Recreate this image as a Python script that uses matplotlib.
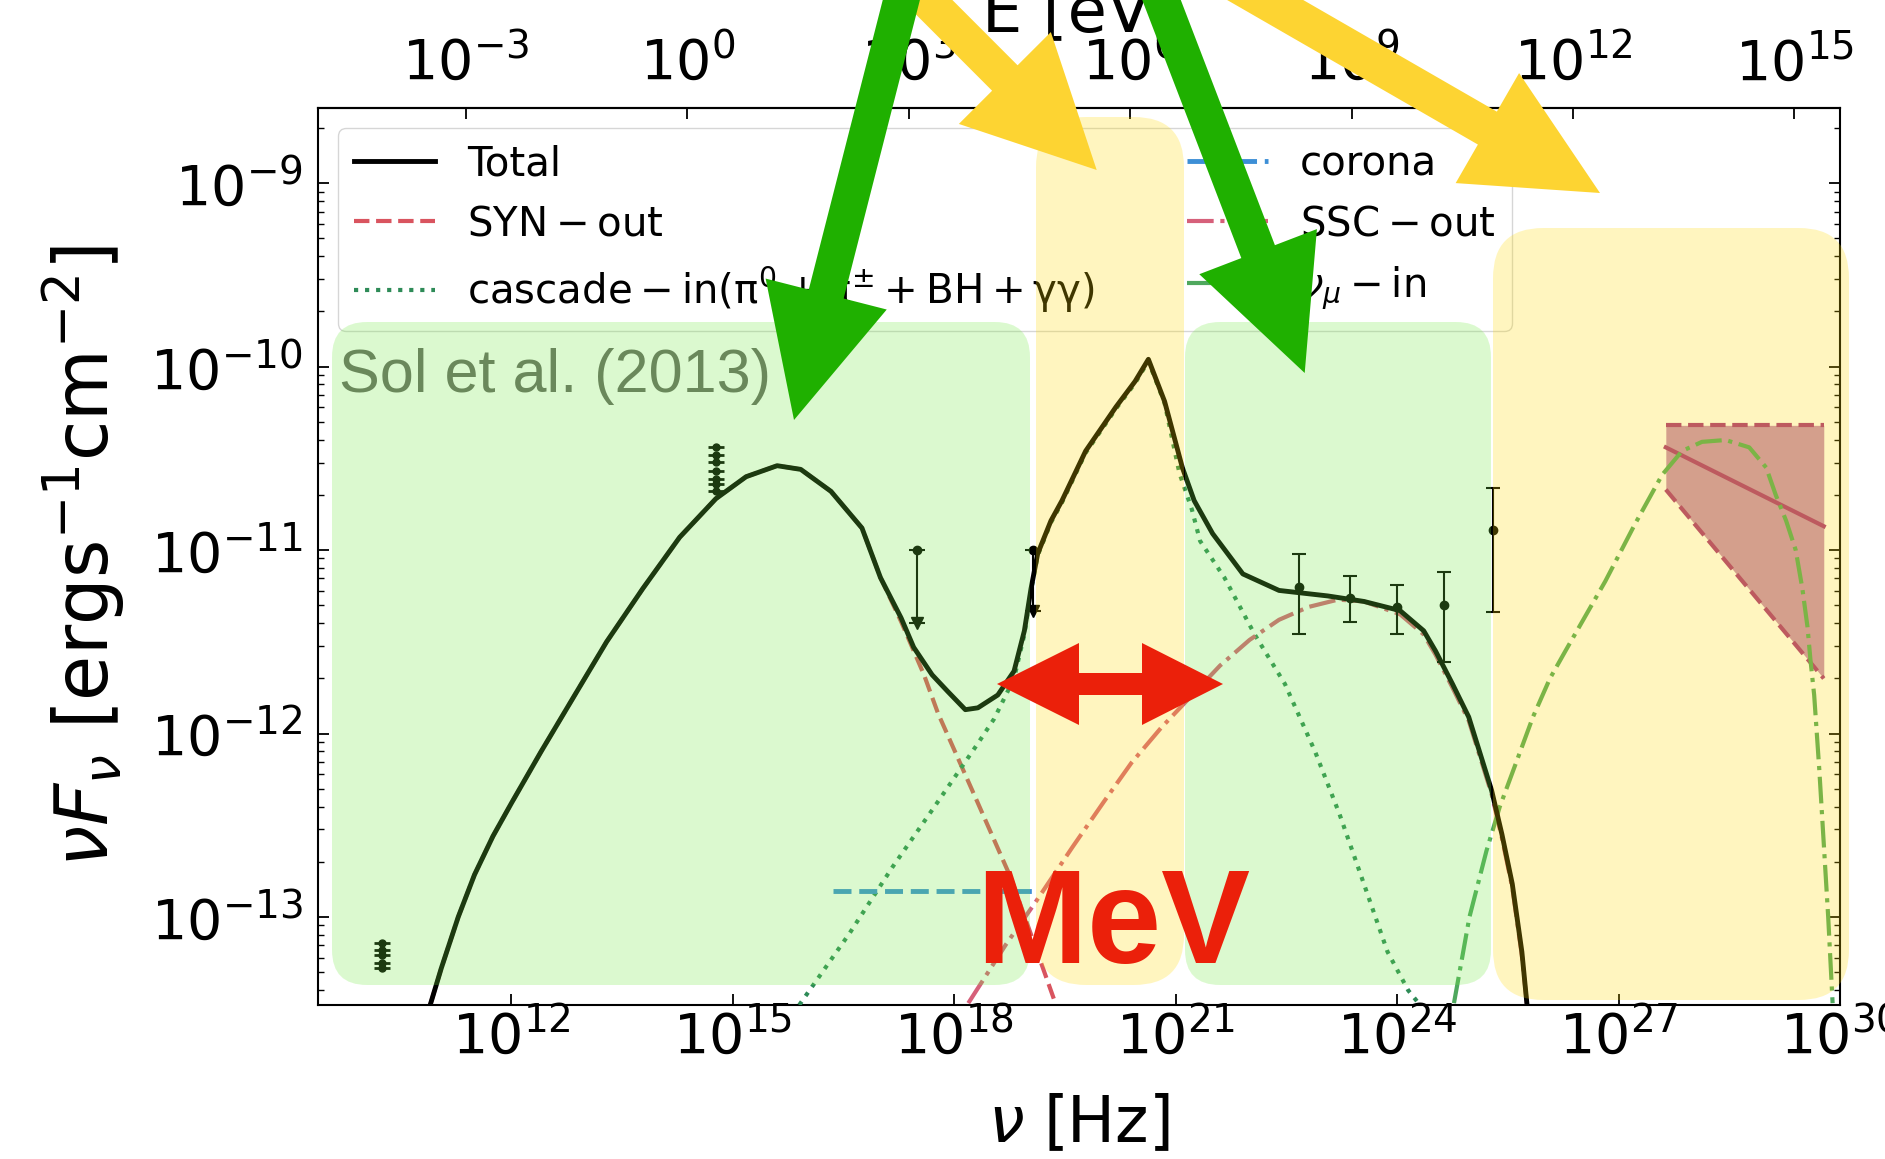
import numpy as np
import matplotlib
matplotlib.use("Agg")
import matplotlib.pyplot as plt
from matplotlib.patches import FancyBboxPatch, Polygon
from matplotlib.ticker import NullLocator
from matplotlib.transforms import IdentityTransform

W, H = 1885, 1159
PLANCK_EV = 4.135667e-15  # eV s

# ---- curves: log10(nu / Hz) and log10(nu F_nu) ----
total_lognu = [10.90, 11.05, 11.28, 11.50, 11.75, 12.00, 12.40, 12.80, 13.29, 13.78,
               14.28, 14.77, 15.18, 15.60, 15.92, 16.33, 16.75, 17.00, 17.28, 17.45,
               17.70, 17.91, 18.15, 18.32, 18.59, 18.81, 18.95, 19.04, 19.13, 19.31,
               19.46, 19.78, 20.19, 20.45, 20.63, 20.85, 21.09, 21.25, 21.50, 21.91,
               22.40, 23.06, 23.55, 24.04, 24.36, 24.52, 24.75, 24.97, 25.28, 25.42,
               25.56, 25.69, 25.76]
total_logf = [-13.48, -13.28, -13.00, -12.77, -12.56, -12.38, -12.10, -11.83, -11.50, -11.21,
              -10.93, -10.72, -10.60, -10.54, -10.56, -10.68, -10.88, -11.15, -11.37, -11.53,
              -11.68, -11.77, -11.87, -11.86, -11.79, -11.66, -11.44, -11.21, -11.02, -10.84,
              -10.73, -10.46, -10.22, -10.08, -9.96, -10.19, -10.55, -10.73, -10.91, -11.13,
              -11.22, -11.25, -11.28, -11.33, -11.44, -11.55, -11.73, -11.91, -12.31, -12.55,
              -12.82, -13.19, -13.48]

syn_lognu = [10.90, 11.05, 11.28, 11.50, 11.75, 12.00, 12.40, 12.80, 13.29, 13.78,
             14.28, 14.77, 15.18, 15.60, 15.92, 16.33, 16.75, 17.00, 17.28, 17.59,
             17.78, 18.31, 18.77, 19.37]
syn_logf = [-13.48, -13.28, -13.00, -12.77, -12.56, -12.38, -12.10, -11.83, -11.50, -11.21,
            -10.93, -10.72, -10.60, -10.54, -10.56, -10.68, -10.88, -11.15, -11.39, -11.68,
            -11.89, -12.37, -12.79, -13.47]

casc_lognu = [15.90, 16.58, 17.16, 17.73, 18.31, 18.54, 18.81, 18.95, 19.04, 19.13,
              19.31, 19.46, 19.78, 20.19, 20.45, 20.63, 20.85, 21.05, 21.22, 21.33,
              21.66, 22.07, 22.48, 22.89, 23.22, 23.55, 23.87, 24.15, 24.31]
casc_logf = [-13.48, -13.09, -12.73, -12.40, -12.06, -11.92, -11.70, -11.46, -11.22, -11.03,
             -10.85, -10.74, -10.47, -10.23, -10.09, -9.97, -10.20, -10.58, -10.78, -10.95,
             -11.15, -11.46, -11.73, -12.10, -12.44, -12.82, -13.19, -13.40, -13.48]

corona_lognu = [16.36, 19.10]
corona_logf = [-12.86, -12.86]

ssc_lognu = [18.19, 18.70, 19.10, 19.60, 20.03, 20.40, 20.80, 21.20, 21.60, 22.00,
             22.40, 22.80, 23.20, 23.55, 24.04, 24.36, 24.52, 24.75, 24.97, 25.28,
             25.42, 25.56, 25.69, 25.76]
ssc_logf = [-13.47, -13.15, -12.92, -12.62, -12.37, -12.16, -11.97, -11.80, -11.63, -11.49,
            -11.38, -11.31, -11.27, -11.28, -11.35, -11.46, -11.57, -11.75, -11.93, -12.33,
            -12.57, -12.84, -13.21, -13.48]

numu_lognu = [24.77, 24.98, 25.21, 25.39, 25.62, 25.84, 26.07, 26.28, 26.82, 27.22,
              27.59, 27.86, 28.13, 28.45, 28.77, 29.00, 29.13, 29.27, 29.40, 29.49,
              29.56, 29.60, 29.65, 29.72, 29.78, 29.84, 29.90]
numu_logf = [-13.47, -13.00, -12.64, -12.40, -12.15, -11.91, -11.70, -11.55, -11.17, -10.86,
             -10.59, -10.46, -10.41, -10.40, -10.44, -10.55, -10.70, -10.84, -11.00, -11.21,
             -11.42, -11.60, -11.79, -12.20, -12.60, -13.00, -13.47]

# HESS butterfly
hess_lognu = [27.64, 29.78]
hess_mid = [-10.44, -10.87]
hess_up = [-10.32, -10.32]
hess_lo = [-10.67, -11.70]

# observed points
radio_lognu = [10.25] * 5
radio_logf = [-13.14, -13.18, -13.21, -13.25, -13.28]
opt_lognu = [14.77] * 7
opt_logf = [-10.44, -10.48, -10.52, -10.57, -10.61, -10.64, -10.68]
ul_lognu = [17.50, 19.07]
ul_logf = [-11.00, -11.00]
ul_end = [-11.40, -11.33]
gam_lognu = [22.67, 23.36, 24.00, 24.63, 25.30]
gam_logf = [-11.20, -11.26, -11.31, -11.30, -10.89]
gam_lo = [-11.46, -11.39, -11.46, -11.61, -11.34]
gam_hi = [-11.02, -11.14, -11.19, -11.12, -10.66]


def p10(a):
    return 10.0 ** np.asarray(a, dtype=float)


fig = plt.figure(figsize=(W / 100, H / 100), dpi=100)
ax = fig.add_axes([318 / W, 1 - 1005 / H, 1522 / W, 897 / H])
ax.set_xscale("log")
ax.set_yscale("log")

ax.fill_between(p10(hess_lognu), p10(hess_lo), p10(hess_up), color="#c68cbb", lw=0, zorder=1)
ax.plot(p10(hess_lognu), p10(hess_mid), color="#a8307f", lw=3, zorder=2)
ax.plot(p10(hess_lognu), p10(hess_up), color="#a8307f", lw=3, ls="--", zorder=2)
ax.plot(p10(hess_lognu), p10(hess_lo), color="#a8307f", lw=3, ls="--", zorder=2)

ax.plot(p10(total_lognu), p10(total_logf), color="k", lw=3.5, zorder=4, label="Total")
ax.plot(p10(syn_lognu), p10(syn_logf), color="#d9545f", lw=3, ls="--", zorder=3,
        label=r"$\rm SYN-out$")
ax.plot(p10(casc_lognu), p10(casc_logf), color="#2e8b57", lw=3, ls=":", zorder=3,
        label=r"$\rm cascade-in(\pi^0+\pi^{\pm}+BH+\gamma\gamma)$")
ax.plot(p10(corona_lognu), p10(corona_logf), color="#3d8fd6", lw=3.5, ls="--", zorder=3,
        label="corona")
ax.plot(p10(ssc_lognu), p10(ssc_logf), color="#d6607a", lw=3, ls="-.", zorder=3,
        label=r"$\rm SSC-out$")
ax.plot(p10(numu_lognu), p10(numu_logf), color="#4fa85e", lw=3, ls="-.", zorder=3,
        label=r"$\nu_\mu-{\rm in}$")

# data
for xs, ys in [(radio_lognu, radio_logf), (opt_lognu, opt_logf)]:
    ax.plot(p10(xs), p10(ys), "o", color="k", ms=5, zorder=5)
    ax.plot(p10(xs), p10(ys), "_", color="k", ms=11, mew=2, zorder=5)

ul_y = p10(ul_logf)
ax.errorbar(p10(ul_lognu), ul_y, yerr=[ul_y - p10(ul_end), np.zeros(len(ul_y))],
            fmt="o", color="k", ms=6, capsize=6, elinewidth=1.5, capthick=1.5, zorder=5)
ax.plot(p10(ul_lognu), p10(ul_end), "v", color="k", ms=9, zorder=5)

gy = p10(gam_logf)
ax.errorbar(p10(gam_lognu), gy, yerr=[gy - p10(gam_lo), p10(gam_hi) - gy],
            fmt="o", color="k", ms=6, capsize=5, elinewidth=1.5, capthick=1.5, zorder=5)

ax.set_xlim(10 ** 9.38, 1e30)
ax.set_ylim(10 ** -13.48, 10 ** -8.59)
ax.set_xticks([10.0 ** k for k in range(12, 31, 3)])
ax.xaxis.set_minor_locator(NullLocator())
ax.set_yticks([10.0 ** k for k in range(-13, -8)])
ax.tick_params(which="both", direction="in", right=True, top=False)
ax.tick_params(which="major", length=8, width=1.3)
ax.tick_params(which="minor", length=4, width=1)
ax.tick_params(axis="x", labelsize=40, pad=3)
ax.tick_params(axis="y", labelsize=40, pad=11)
for s in ax.spines.values():
    s.set_linewidth(1.5)

ax.set_xlabel(r"$\nu$ [Hz]", fontsize=46, labelpad=20)
ax.set_ylabel(r"$\nu F_{\nu}\ [\rm erg s^{-1} cm^{-2}]$", fontsize=53, labelpad=17)

secax = ax.secondary_xaxis("top", functions=(lambda nu: nu * PLANCK_EV, lambda e: e / PLANCK_EV))
secax.set_xticks([10.0 ** k for k in range(-3, 16, 3)])
secax.xaxis.set_minor_locator(NullLocator())
secax.tick_params(direction="in", labelsize=40, pad=12, length=8, width=1.3)
secax.set_xlabel("E [eV]", fontsize=46, labelpad=3)
secax.spines["top"].set_linewidth(1.5)

ax.legend(loc="upper left", ncol=2, fontsize=29, columnspacing=2.3)

# ---- overlays drawn on top, in pixel coordinates (y measured from the top) ----
ident = IdentityTransform()
green_box = (115 / 255, 235 / 255, 67 / 255)
yellow_box = (1.0, 219 / 255, 0.0)
boxes = [(332, 322, 1030, 985, 35, green_box),
         (1036, 117, 1184, 985, 50, yellow_box),
         (1185, 322, 1491, 985, 35, green_box),
         (1493, 228, 1849, 1000, 50, yellow_box)]
for x0, y0, x1, y1, r, c in boxes:
    fig.add_artist(FancyBboxPatch((x0, H - y1), x1 - x0, y1 - y0,
                                  boxstyle=f"round,pad=0,rounding_size={r}",
                                  transform=ident, fc=c, ec="none", alpha=0.25, zorder=2))


def arrow(tail, tip, width, head_w, head_l, color):
    t = np.array(tail, float)
    p = np.array(tip, float)
    u = (p - t) / np.hypot(*(p - t))
    n = np.array([-u[1], u[0]])
    b = p - u * head_l
    pts = [t + n * width / 2, b + n * width / 2, b + n * head_w / 2, p,
           b - n * head_w / 2, b - n * width / 2, t - n * width / 2]
    pts = [(q[0], H - q[1]) for q in pts]
    fig.add_artist(Polygon(pts, closed=True, transform=ident, fc=color, ec="none", zorder=3))


arrow((890, -37), (1096.7, 170), 36, 130, 130, "#fdd432")
arrow((1227, -22), (1600, 193), 38, 127, 130, "#fdd432")
arrow((909, -30), (794, 420), 36, 125, 130, "#1fb000")
arrow((1150, -30), (1304.7, 373), 36, 126, 130, "#1fb000")

red_pts = [(997, 684), (1079, 643), (1079, 673), (1142, 673), (1142, 643), (1223, 684),
           (1142, 725), (1142, 695), (1079, 695), (1079, 725)]
fig.add_artist(Polygon([(x, H - y) for x, y in red_pts], closed=True, transform=ident,
                       fc="#eb200a", ec="none", zorder=4))

fig.text(976 / W, 1 - 963 / H, "MeV", fontsize=96, fontweight="bold", family="Liberation Sans",
         color="#eb200a", va="baseline", ha="left", zorder=5)
fig.text(339 / W, 1 - 392 / H, "Sol et al. (2013)", fontsize=44, family="Liberation Sans",
         color="#6a885b", va="baseline", ha="left", zorder=5)

fig.savefig("out.png", dpi=100)
